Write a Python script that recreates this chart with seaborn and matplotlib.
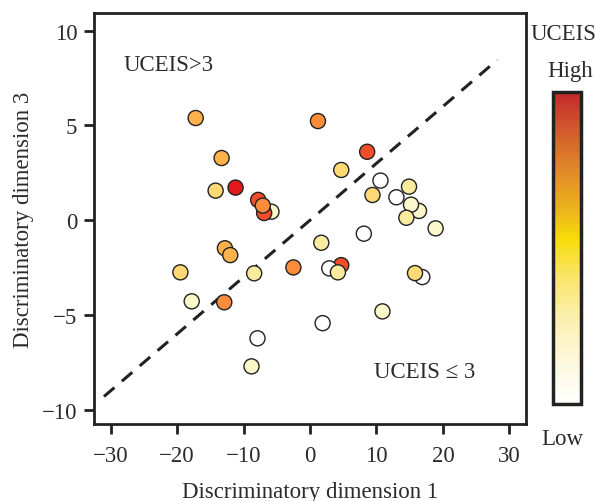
import numpy as np
import pandas as pd
import matplotlib
matplotlib.use("Agg")
import matplotlib.pyplot as plt
from matplotlib.colors import LinearSegmentedColormap, Normalize
from matplotlib.cm import ScalarMappable
import seaborn as sns

# ---- data ----
dim1 = [-17.2, -13.3, -14.2, -11.2, -5.8, -7.8, -6.9, -7.1, -12.8, -12.0,
        -19.5, -8.4, -2.5, -17.8, -12.9, 10.9, 1.9, -7.9, -8.8, 1.2,
        8.6, 4.7, 10.6, 14.9, 9.4, 13.0, 16.4, 15.2, 14.5, 18.9,
        8.1, 1.7, 4.7, 2.9, 4.2, 16.9, 15.8]
dim3 = [5.39, 3.28, 1.56, 1.72, 0.45, 1.07, 0.38, 0.77, -1.48, -1.84,
        -2.75, -2.80, -2.49, -4.28, -4.33, -4.81, -5.43, -6.23, -7.71, 5.23,
        3.61, 2.65, 2.09, 1.77, 1.33, 1.21, 0.49, 0.82, 0.13, -0.43,
        -0.71, -1.19, -2.37, -2.54, -2.75, -3.00, -2.79]
uceis = [4, 4, 3, 7, 1, 6, 6, 5, 4, 4,
         3, 2, 5, 1, 5, 1, 0, 0, 1, 5,
         6, 3, 0, 2, 3, 0, 1, 1, 2, 1,
         0, 2, 6, 0, 2, 0, 3]

level_colors = ["#ffffff", "#fdf7cc", "#fbeb9f", "#fed976", "#feb24c",
                "#fa8c3c", "#f24e2c", "#e31a1c"]

boundary_x = [-31.0, 28.2]
boundary_y = [-9.3, 8.46]

x_ticks = [-30, -20, -10, 0, 10, 20, 30]
y_ticks = [-10, -5, 0, 5, 10]

cbar_stops = [0.0, 0.12, 0.28, 0.42, 0.53, 0.62, 0.75, 0.88, 1.0]
cbar_colors = ["#ffffff", "#fdf9e2", "#fbefac", "#f9e460", "#f8dc08",
               "#ecb51c", "#e08a28", "#d25a2e", "#c4282b"]

df = pd.DataFrame({"dim1": dim1, "dim3": dim3, "uceis": uceis})

# ---- style ----
sns.set_style("ticks")
plt.rcParams["font.family"] = ["Liberation Serif", "DejaVu Serif"]
text_col = "#2a2a2a"
fs = 16.5

fig = plt.figure(figsize=(5.95, 5.02), dpi=100)
ax = fig.add_axes([94 / 595, 1 - 425 / 502, 432 / 595, 411 / 502])

palette = {i: c for i, c in enumerate(level_colors)}
sns.scatterplot(data=df, x="dim1", y="dim3", hue="uceis", palette=palette,
                s=118, edgecolor="#222222", linewidth=1.0, legend=False,
                ax=ax, zorder=3)

ax.plot(boundary_x, boundary_y, color="#222222", lw=2.2,
        dashes=(4.5, 3.2), zorder=2)

ax.set_xlim(-32.5, 32.5)
ax.set_ylim(-10.75, 10.93)
ax.set_xticks(x_ticks)
ax.set_yticks(y_ticks)
ax.tick_params(axis="both", direction="out", length=7, width=2,
               color="#222222", labelsize=fs, labelcolor=text_col, pad=5)
ax.tick_params(axis="x", pad=8)
for sp in ax.spines.values():
    sp.set_visible(True)
    sp.set_linewidth(2)
    sp.set_color("#222222")

ax.set_xlabel("Discriminatory dimension 1", fontsize=fs, color=text_col,
              labelpad=11)
ax.set_ylabel("Discriminatory dimension 3", fontsize=fs, color=text_col,
              labelpad=6)

ax.text(-28.0, 8.2, "UCEIS>3", fontsize=fs, color=text_col,
        ha="left", va="center")
ax.text(9.6, -8.0, "UCEIS \u2264 3", fontsize=fs, color=text_col,
        ha="left", va="center")

# ---- colour bar ----
cmap = LinearSegmentedColormap.from_list("uceis_bar",
                                         list(zip(cbar_stops, cbar_colors)))
cax = fig.add_axes([553 / 595, 1 - 405 / 502, 28 / 595, 312 / 502])
cb = fig.colorbar(ScalarMappable(norm=Normalize(0, 1), cmap=cmap), cax=cax)
cb.set_ticks([])
cb.outline.set_linewidth(2.5)
cb.outline.set_edgecolor("#222222")

fig.text(563 / 595, 1 - 35 / 502, "UCEIS", fontsize=fs, color=text_col,
         ha="center", va="center")
fig.text(570 / 595, 1 - 72 / 502, "High", fontsize=fs, color=text_col,
         ha="center", va="center")
fig.text(562 / 595, 1 - 440 / 502, "Low", fontsize=fs, color=text_col,
         ha="center", va="center")

fig.savefig("out.png", dpi=100)
